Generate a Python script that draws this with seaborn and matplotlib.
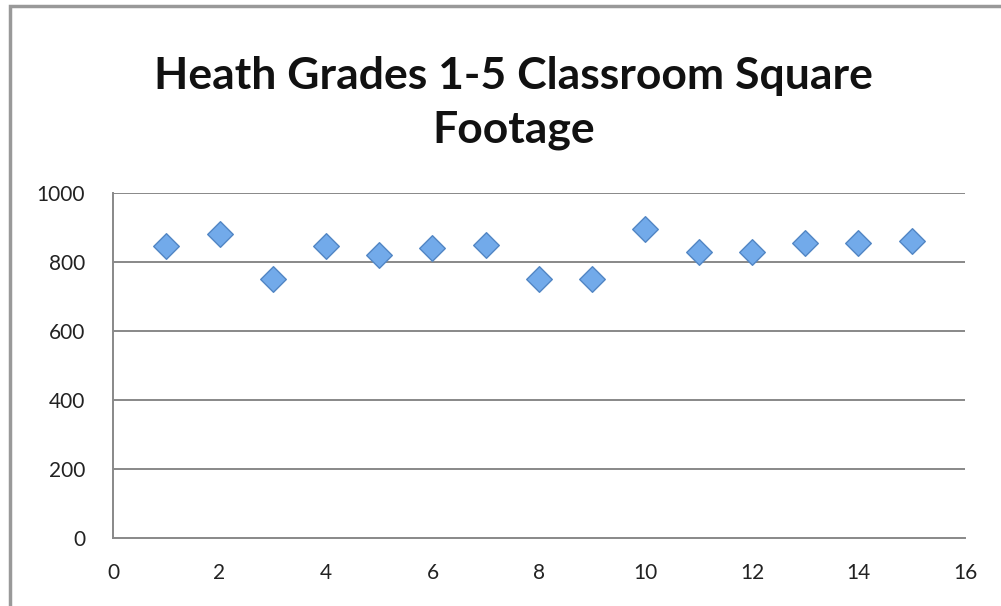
import matplotlib
matplotlib.use("Agg")
import matplotlib.pyplot as plt
import pandas as pd
import seaborn as sns
from matplotlib.patches import Rectangle

# classroom number vs square footage
rooms = [1, 2, 3, 4, 5, 6, 7, 8, 9, 10, 11, 12, 13, 14, 15]
sq_feet = [845, 880, 750, 845, 820, 840, 848, 750, 750, 895, 830, 828, 855, 855, 862]

title = "Heath Grades 1-5 Classroom Square\nFootage"
x_ticks = [0, 2, 4, 6, 8, 10, 12, 14, 16]
y_ticks = [0, 200, 400, 600, 800, 1000]

sns.set_style("white")
plt.rcParams["font.family"] = ["Lato", "DejaVu Sans"]

df = pd.DataFrame({"room": rooms, "sqft": sq_feet})

fig = plt.figure(figsize=(10.01, 6.06), dpi=100)
ax = fig.add_axes([0.1129, 0.1122, 0.964 - 0.1129, 0.6815 - 0.1122])

sns.scatterplot(data=df, x="room", y="sqft", ax=ax, marker="D", s=170,
                color="#72aaea", edgecolor="#5286c4", linewidth=1.0,
                zorder=3, legend=False)

ax.set_xlim(0, 16)
ax.set_ylim(0, 1000)
ax.set_xticks(x_ticks)
ax.set_yticks(y_ticks)
ax.set_xlabel("")
ax.set_ylabel("")

for y in y_ticks[1:]:
    ax.axhline(y, color="#888888", linewidth=1.4, zorder=1)

for side in ["top", "right"]:
    ax.spines[side].set_visible(False)
for side in ["left", "bottom"]:
    ax.spines[side].set_color("#888888")
    ax.spines[side].set_linewidth(1.4)

ax.tick_params(axis="both", direction="out", length=7, width=1.4,
               color="#888888", labelsize=15, labelcolor="#222222")
ax.tick_params(axis="x", pad=11)
ax.tick_params(axis="y", pad=13)

fig.text(0.513, 0.83, title, ha="center", va="center", fontsize=32,
         fontweight="bold", color="#111111", linespacing=1.42)

# outer chart frame
fig.patches.append(Rectangle((10 / 1001, -0.1), 1.2, 1.1 - 6 / 606,
                             transform=fig.transFigure, fill=False,
                             edgecolor="#999999", linewidth=2.5))

fig.savefig("out.png", dpi=100)
